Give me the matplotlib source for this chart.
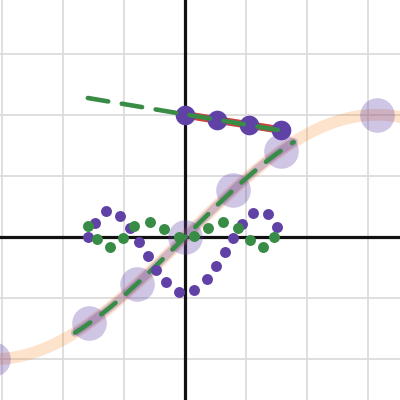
import numpy as np
import matplotlib
matplotlib.use("Agg")
import matplotlib.pyplot as plt

# ---- data ----
# sine-like curve y = 2 sin(x/2) and its sample points
curve_x_range = [-3.5, 3.6]
big_pts_x = [-np.pi, -np.pi/2, -np.pi/4, 0.0, np.pi/4, np.pi/2, np.pi]
big_pts_y = [2*np.sin(v/2) for v in big_pts_x]
dash_curve_range = [-1.8, 1.78]

# top segment (red line with purple dots)
top_x = [0.0, np.pi/6, np.pi/3, np.pi/2]
top_y = [2.0, 1.915, 1.833, 1.75]
top_dash_x = [-1.59, 1.59]
top_dash_y = [2.275, 1.74]

# purple dotted path
purple_x = [-1.59, -1.47, -1.29, -1.06, -0.90, -0.75, -0.61, -0.47, -0.31, -0.10,
            0.15, 0.36, 0.51, 0.65, 0.79, 0.94, 1.11, 1.36, 1.51]
purple_y = [0.00, 0.23, 0.43, 0.34, 0.15, -0.08, -0.31, -0.54, -0.74, -0.90,
            -0.87, -0.69, -0.47, -0.25, -0.02, 0.21, 0.39, 0.38, 0.16]

# green dotted wave
green_x = [-1.59, -1.44, -1.23, -1.01, -0.83, -0.57, -0.34, -0.10, 0.15, 0.38,
           0.62, 0.87, 1.06, 1.28, 1.46]
green_y = [0.18, -0.03, -0.16, -0.02, 0.18, 0.25, 0.13, 0.00, 0.02, 0.15,
           0.25, 0.15, -0.05, -0.16, 0.00]

PURPLE = "#6042a6"
GREEN = "#388c46"
RED = "#c74440"
ORANGE = "#fa7e19"

fig = plt.figure(figsize=(4, 4), dpi=100)
ax = fig.add_axes([0, 0, 1, 1])
s = 61.1
ax.set_xlim(-185 / s, 215 / s)
ax.set_ylim(-163 / s, 237 / s)
ax.axis("off")

# grid
for gx in range(-3, 4):
    ax.axvline(gx, color="#dcdcdc", lw=1.3, zorder=0)
for gy in range(-2, 4):
    ax.axhline(gy, color="#dcdcdc", lw=1.3, zorder=0)
ax.axvline(0, color="#111111", lw=2.3, zorder=1)
ax.axhline(0, color="#111111", lw=2.3, zorder=1)

# orange band curve
xc = np.linspace(curve_x_range[0], curve_x_range[1], 400)
ax.plot(xc, 2*np.sin(xc/2), color=ORANGE, alpha=0.22, lw=8.5,
        solid_capstyle="round", zorder=2)
# big translucent circles
ax.scatter(big_pts_x, big_pts_y, s=620, color=PURPLE, alpha=0.3,
           linewidths=0, zorder=3)
# purple translucent band + green dashed curve
xd = np.linspace(dash_curve_range[0], dash_curve_range[1], 200)
ax.plot(xd, 2*np.sin(xd/2), color=PURPLE, alpha=0.28, lw=6,
        solid_capstyle="round", zorder=4)
ax.plot(xd, 2*np.sin(xd/2), color=GREEN, lw=3.3, dashes=(4.0, 3.0),
        dash_capstyle="round", zorder=5)

# top red line with dots
ax.plot(top_x, top_y, color=RED, lw=5.5, solid_capstyle="butt", zorder=6)
ax.scatter(top_x, top_y, s=200, color=PURPLE, linewidths=0, zorder=7)
ax.plot(top_dash_x, top_dash_y, color=GREEN, lw=3.3, dashes=(4.5, 3.0),
        dash_capstyle="round", zorder=8)

# dotted paths
ax.scatter(purple_x, purple_y, s=62, color=PURPLE, linewidths=0, zorder=6)
ax.scatter(green_x, green_y, s=62, color=GREEN, linewidths=0, zorder=6)

fig.savefig("out.png", dpi=100)
